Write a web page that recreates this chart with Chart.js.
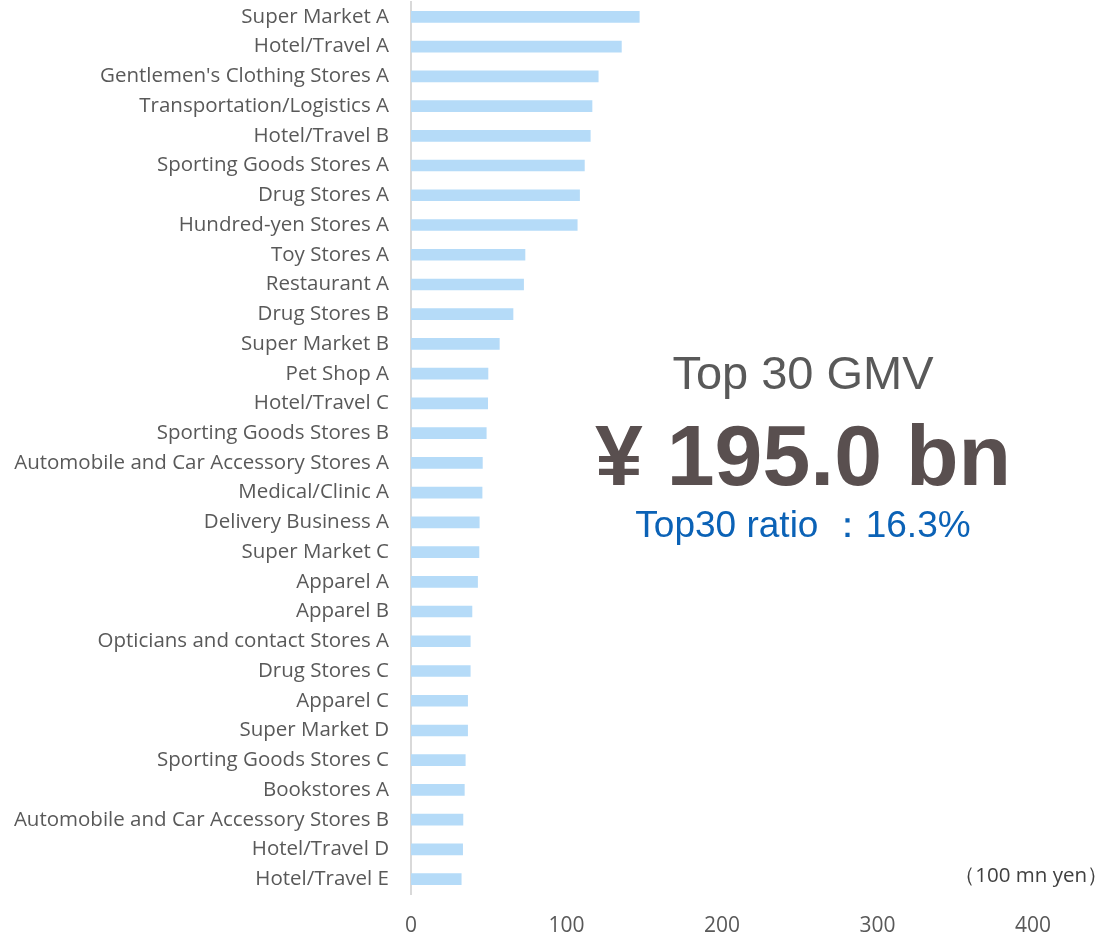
<!DOCTYPE html>
<html>
<head>
<meta charset="utf-8">
<script src="https://cdn.jsdelivr.net/npm/chart.js@4/dist/chart.umd.min.js"></script>
<style>
  html, body { margin: 0; padding: 0; background: #fff; }
  #gmvChart { display: block; }
</style>
</head>
<body>
<canvas id="gmvChart" width="1099" height="937"></canvas>
<script>
// Top 30 merchants by GMV (unit: 100 mn yen)
const merchants = [
  'Super Market A', 'Hotel/Travel A', "Gentlemen's Clothing Stores A",
  'Transportation/Logistics A', 'Hotel/Travel B', 'Sporting Goods Stores A',
  'Drug Stores A', 'Hundred-yen Stores A', 'Toy Stores A', 'Restaurant A',
  'Drug Stores B', 'Super Market B', 'Pet Shop A', 'Hotel/Travel C',
  'Sporting Goods Stores B', 'Automobile and Car Accessory Stores A',
  'Medical/Clinic A', 'Delivery Business A', 'Super Market C', 'Apparel A',
  'Apparel B', 'Opticians and contact Stores A', 'Drug Stores C', 'Apparel C',
  'Super Market D', 'Sporting Goods Stores C', 'Bookstores A',
  'Automobile and Car Accessory Stores B', 'Hotel/Travel D', 'Hotel/Travel E'
];

const gmv = [
  146.8, 135.3, 120.4, 116.4, 115.3, 111.5, 108.4, 106.9, 73.3, 72.4,
  65.6, 56.8, 49.5, 49.3, 48.4, 45.9, 45.7, 43.9, 43.7, 42.8,
  39.2, 38.1, 38.1, 36.4, 36.4, 34.9, 34.3, 33.4, 33.2, 32.3
];

const xTicks = [0, 100, 200, 300, 400];

const summaryTitle = 'Top 30 GMV';
const summaryValue = '¥ 195.0 bn';
const summaryRatio = 'Top30 ratio ：16.3%';
const unitLabel = '（100 mn yen）';

// headline text drawn over the empty right side of the plot
const summaryText = {
  id: 'summaryText',
  afterDraw(chart) {
    const ctx = chart.ctx;
    ctx.save();
    ctx.textAlign = 'center';
    ctx.textBaseline = 'alphabetic';

    ctx.fillStyle = '#595959';
    ctx.font = '47px "Liberation Sans", Arial, sans-serif';
    ctx.fillText(summaryTitle, 803, 389);

    ctx.fillStyle = '#594f4f';
    ctx.font = 'bold 86px "Liberation Sans", Arial, sans-serif';
    ctx.fillText(summaryValue, 803, 485);

    ctx.fillStyle = '#0b62b6';
    ctx.font = '37px "Liberation Sans", Arial, sans-serif';
    ctx.fillText(summaryRatio, 803, 537);

    ctx.textAlign = 'right';
    ctx.fillStyle = '#404040';
    ctx.font = '20.5px "Open Sans", sans-serif';
    ctx.fillText(unitLabel, 1108, 882);
    ctx.restore();
  }
};

// keep the plot flush with the top edge and the label column fixed
function fitY(scale) {
  scale.width = 411;
  scale.paddingTop = 0;
  scale.paddingBottom = 0;
}

function fitX(scale) {
  scale.height = 43;
}

const ctx = document.getElementById('gmvChart').getContext('2d');

new Chart(ctx, {
  type: 'bar',
  data: {
    labels: merchants,
    datasets: [{
      data: gmv,
      backgroundColor: '#b5dbf8',
      borderWidth: 0,
      barThickness: 11
    }]
  },
  options: {
    indexAxis: 'y',
    responsive: false,
    animation: false,
    layout: { padding: { top: 2, right: 66, left: 0, bottom: 0 } },
    plugins: {
      legend: { display: false },
      tooltip: { enabled: false }
    },
    scales: {
      x: {
        min: 0,
        max: 400,
        afterBuildTicks(scale) {
          scale.ticks = xTicks.map(v => ({ value: v }));
        },
        afterFit: fitX,
        grid: { display: false, drawTicks: false },
        border: { display: false },
        ticks: {
          color: '#595959',
          font: { family: 'Open Sans', size: 21 },
          padding: 19
        }
      },
      y: {
        afterFit: fitY,
        grid: { display: false, drawTicks: false },
        border: { display: true, color: '#d9d9d9', width: 2 },
        ticks: {
          color: '#595959',
          font: { family: 'Open Sans', size: 20.5 },
          padding: 22,
          autoSkip: false
        }
      }
    }
  },
  plugins: [summaryText]
});
</script>
</body>
</html>
